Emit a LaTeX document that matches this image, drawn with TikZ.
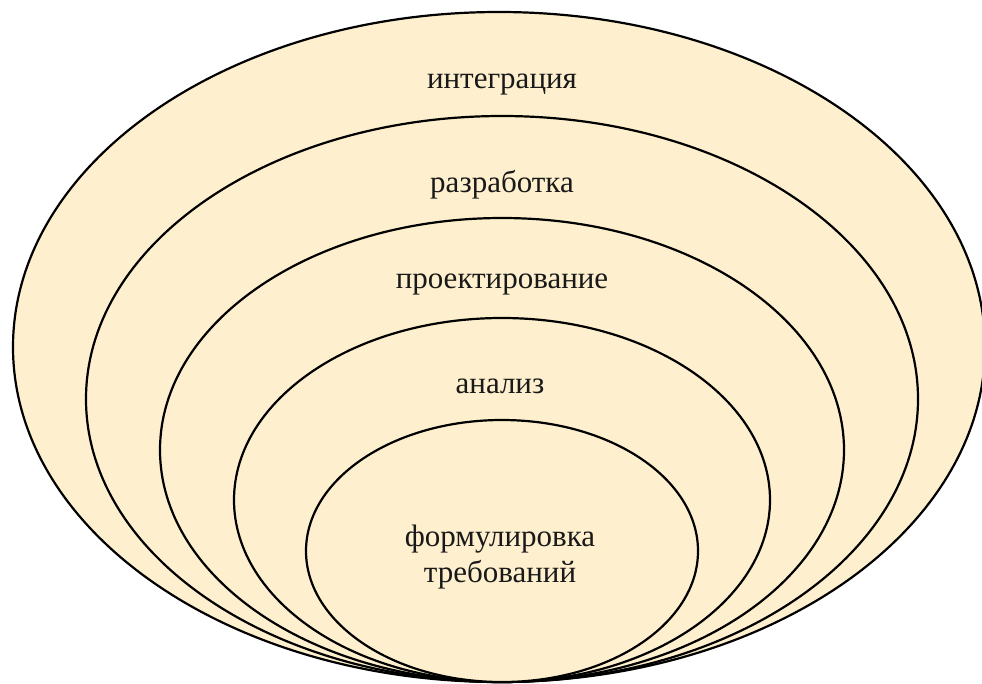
\documentclass[tikz,border=0pt]{standalone}
\usepackage{fontspec}
\setmainfont{Liberation Serif}
\definecolor{beige}{RGB}{254,240,206}
\tikzset{ring/.style={draw=black, line width=2.2pt, fill=beige},
  lbl/.style={font=\fontsize{31}{36}\selectfont, align=center, inner sep=0pt, text=black!90}}
\begin{document}
\begin{tikzpicture}[x=1pt,y=-1pt]
\useasboundingbox (0,0) rectangle (982,683);
\fill[white] (0,0) rectangle (982,683);
\begin{scope}
\clip (0,0) rectangle (982,683);
\draw[ring] (499,347) ellipse [x radius=486, y radius=335];
\draw[ring] (502,399) ellipse [x radius=416, y radius=283];
\draw[ring] (502,450) ellipse [x radius=342, y radius=232];
\draw[ring] (502,500) ellipse [x radius=268, y radius=182];
\draw[ring] (502,551) ellipse [x radius=196, y radius=131];
\end{scope}
\node[lbl] (l1) at (502,84) {интеграция};
\node[lbl] (l2) at (502,185) {разработка};
\node[lbl] (l3) at (502,284) {проектирование};
\node[lbl] (l4) at (500,386) {анализ};
\node[lbl] (l5) at (500,557) {формулировка\\требований};
\end{tikzpicture}
\end{document}
